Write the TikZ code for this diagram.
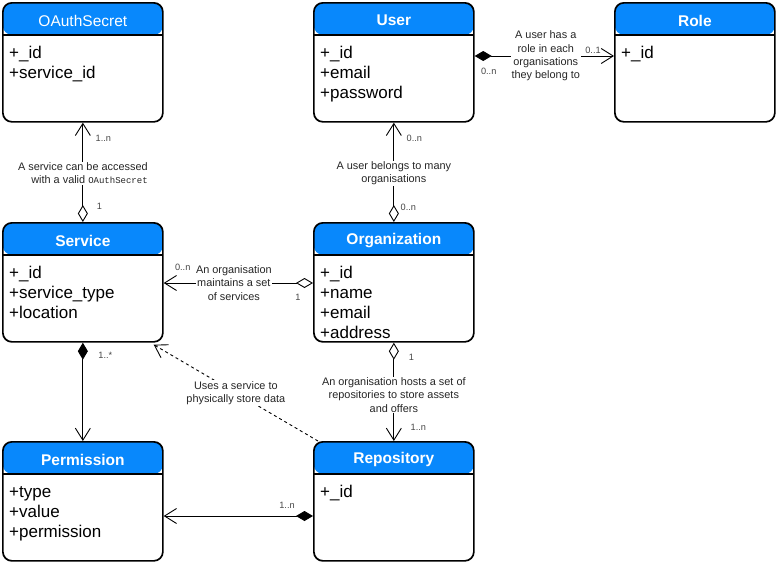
\documentclass[tikz,border=0pt]{standalone}
\usepackage{fontspec}
\setmainfont{Liberation Sans}
\newfontfamily\codefont{Liberation Mono}
\usetikzlibrary{arrows.meta}
\definecolor{hdrblue}{RGB}{8,136,252}
\definecolor{multgray}{RGB}{70,70,70}

\tikzset{
  classbox/.style={draw=black, line width=1.7pt, rounded corners=9pt, fill=white,
    anchor=north west, minimum width=160pt, minimum height=119pt, inner sep=0pt,
    path picture={
      \fill[hdrblue] (path picture bounding box.north west) rectangle
        ([yshift=-32pt]path picture bounding box.north east);
      \draw[line width=1.4pt] ([yshift=-32pt]path picture bounding box.north west) --
        ([yshift=-32pt]path picture bounding box.north east);
    }},
  titlebold/.style={text=white, font=\fontsize{15.5}{18}\selectfont\bfseries},
  titleplain/.style={text=white, font=\fontsize{15.5}{18}\selectfont},
  attr/.style={anchor=base west, inner sep=0pt, font=\fontsize{17}{20}\selectfont},
  conn/.style={line width=0.9pt, draw=black},
  hollowdia/.tip={Diamond[open, length=17pt, width=10pt, line width=0.9pt]},
  soliddia/.tip={Diamond[length=17pt, width=10pt]},
  barb/.tip={Straight Barb[length=12pt, width=15pt, line width=0.9pt]},
  lbl/.style={fill=white, inner sep=1pt, align=center, text=black!85,
    font=\fontsize{10.9}{13.3}\selectfont},
  mult/.style={inner sep=0pt, text=multgray, font=\fontsize{9.2}{10}\selectfont},
}

% a class: name, top-left corner, title style, title, attribute list
\newcommand\umlclass[5]{%
  \node[classbox] (#1) at (#2) {};
  \node[#3] at ([yshift=-18.5pt]#1.north) {#4};
  \foreach \a [count=\i from 0] in {#5}
    \node[attr] at ([xshift=7pt,yshift={-56pt-20pt*\i}]#1.north west) {\a};
}

\begin{document}
\begin{tikzpicture}[x=1pt, y=-1pt]
  \useasboundingbox (0,0) rectangle (776,563);

  \umlclass{oauth}{2,2}{titleplain}{OAuthSecret}{+\_id, +service\_id}
  \umlclass{user}{313,2}{titlebold}{User}{+\_id, +email, +password}
  \umlclass{role}{614,2}{titlebold}{Role}{+\_id}
  \umlclass{service}{2,222}{titlebold}{Service}{+\_id, +service\_type, +location}
  \umlclass{org}{313,222}{titlebold}{Organization}{+\_id, +name, +email, +address}
  \umlclass{perm}{2,441}{titlebold}{Permission}{+type, +value, +permission}
  \umlclass{repo}{313,441}{titlebold}{Repository}{+\_id}

  % Service -> OAuthSecret
  \draw[conn, {hollowdia}-{barb}] (service.north) -- (oauth.south)
    node[lbl, align=right, pos=0.49] (lblsec) {A service can be accessed\\with a valid {\codefont\fontsize{9}{13.3}\selectfont OAuthSecret}};
  \node[mult] (m1) at ([shift={(20.5,16)}]oauth.south) {1..n};
  \node[mult] (m2) at ([shift={(16.5,-16)}]service.north) {1};

  % Organization -> User
  \draw[conn, {hollowdia}-{barb}] (org.north) -- (user.south)
    node[lbl, pos=0.49] (lblbel) {A user belongs to many\\organisations};
  \node[mult] (m3) at ([shift={(20.5,16)}]user.south) {0..n};
  \node[mult] (m4) at ([shift={(14.5,-15)}]org.north) {0..n};

  % User -> Role
  \draw[conn, {soliddia}-{barb}] ([shift={(0,54)}]user.north east) -- ([shift={(0,54)}]role.north west)
    node[lbl, pos=0.51] (lblrole) {A user has a\\role in each\\organisations\\they belong to};
  \node[mult] (m5) at ([shift={(14,69)}]user.north east) {0..n};
  \node[mult] (m6) at ([shift={(-21,48)}]role.north west) {0..1};

  % Organization -> Service
  \draw[conn, {hollowdia}-{barb}] ([shift={(0,61)}]org.north west) -- ([shift={(0,61)}]service.north east)
    node[lbl, pos=0.53, inner sep=0.5pt] (lblmnt) {An organisation\\maintains a set\\of services};
  \node[mult] (m7) at ([shift={(19,45)}]service.north east) {0..n};
  \node[mult] (m8) at ([shift={(-15,75)}]org.north west) {1};

  % Service -> Permission
  \draw[conn, {soliddia}-{barb}] (service.south) -- (perm.north);
  \node[mult] (m9) at ([shift={(22.5,13)}]service.south) {1..*};

  % Organization -> Repository
  \draw[conn, {hollowdia}-{barb}] (org.south) -- (repo.north)
    node[lbl, pos=0.53] (lblhost) {An organisation hosts a set of\\repositories to store assets\\and offers};
  \node[mult] (m10) at ([shift={(17.5,15)}]org.south) {1};
  \node[mult] (m11) at ([shift={(24.5,-14)}]repo.north) {1..n};

  % Repository uses Service
  \draw[conn, dash pattern=on 3pt off 3pt, -{barb}] ([xshift=5pt]repo.north west) -- ([shift={(-10,2)}]service.south east)
    node[lbl, pos=0.5] (lbluse) {Uses a service to\\physically store data};

  % Repository -> Permission
  \draw[conn, {soliddia}-{barb}] ([shift={(0,75)}]repo.north west) -- ([shift={(0,75)}]perm.north east);
  \node[mult] (m12) at ([shift={(-26,64)}]repo.north west) {1..n};
\end{tikzpicture}
\end{document}
